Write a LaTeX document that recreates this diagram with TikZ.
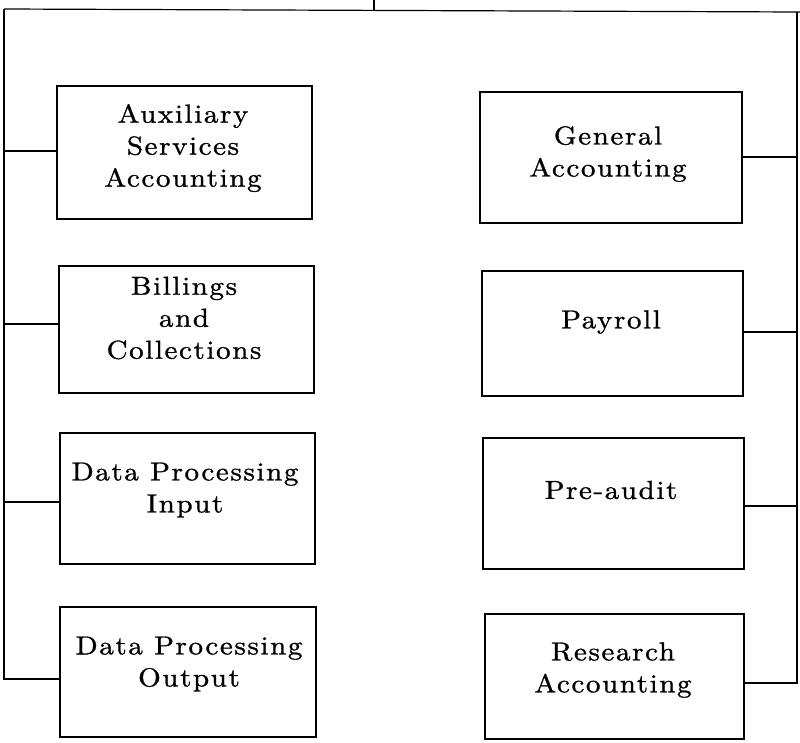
\documentclass[tikz,border=0pt]{standalone}
\usepackage{fontspec}
\newfontfamily\boxfont{lmroman10-regular.otf}[LetterSpace=6,FakeStretch=1.12,FakeBold=1]
\begin{document}
\begin{tikzpicture}[x=1pt,y=-1pt,
  line/.style={line width=1.2pt, black},
  box/.style={draw, line width=1.2pt, inner sep=0pt},
  txt/.style={align=center, inner sep=0pt,
    font=\boxfont\fontsize{26}{32}\selectfont}]
\useasboundingbox (0,0) rectangle (800,742);
% boxes
\node[box, minimum width=255pt, minimum height=133pt] (aux) at (184.5,152.5) {};
\node[box, minimum width=255pt, minimum height=127pt] (bill) at (186.5,329.5) {};
\node[box, minimum width=255pt, minimum height=131pt] (dpi) at (187.5,498.5) {};
\node[box, minimum width=256pt, minimum height=130pt] (dpo) at (188,672) {};
\node[box, minimum width=262pt, minimum height=131pt] (gen) at (611,157.5) {};
\node[box, minimum width=261pt, minimum height=125pt] (pay) at (612.5,333.5) {};
\node[box, minimum width=261pt, minimum height=131pt] (pre) at (613.5,503.5) {};
\node[box, minimum width=259pt, minimum height=125pt] (res) at (614.5,676.5) {};
% texts
\node[txt] (auxt) at (183,148) {Auxiliary\\Services\\Accounting};
\node[txt] (billt) at (184,318) {Billings\\and\\Collections};
\node[txt] (dpit) at (185,490) {Data Processing\\Input};
\node[txt] (dpot) at (189,664) {Data Processing\\Output};
\node[txt] (gent) at (608,154) {General\\Accounting};
\node[txt] (payt) at (611,322) {Payroll};
\node[txt] (pret) at (611,490) {Pre-audit};
\node[txt] (rest) at (613,670) {Research\\Accounting};
% spine
\coordinate (tick) at (374,0);
\coordinate (tickb) at (374,11);
\coordinate (ltop) at (4,9);
\coordinate (rtop) at (797,12);
\coordinate (rend) at (800,12);
% connector attachment points
\coordinate (auxc) at ([yshift=1.5pt]aux.west);
\coordinate (billc) at ([yshift=5.5pt]bill.west);
\coordinate (dpic) at ([yshift=-3.5pt]dpi.west);
\coordinate (dpoc) at ([yshift=-7pt]dpo.west);
\coordinate (genc) at ([yshift=0.5pt]gen.east);
\coordinate (payc) at ([yshift=1.5pt]pay.east);
\coordinate (prec) at ([yshift=-2.5pt]pre.east);
\coordinate (resc) at ([yshift=-6.5pt]res.east);
\draw[line] (ltop) -- (rend);
\draw[line] (tick) -- (tickb);
\draw[line] (ltop) |- (dpoc);
\draw[line] (rtop) |- (resc);
% connectors left
\draw[line] (auxc) -- (ltop |- auxc);
\draw[line] (billc) -- (ltop |- billc);
\draw[line] (dpic) -- (ltop |- dpic);
% connectors right
\draw[line] (genc) -- (rtop |- genc);
\draw[line] (payc) -- (rtop |- payc);
\draw[line] (prec) -- (rtop |- prec);
\end{tikzpicture}
\end{document}
